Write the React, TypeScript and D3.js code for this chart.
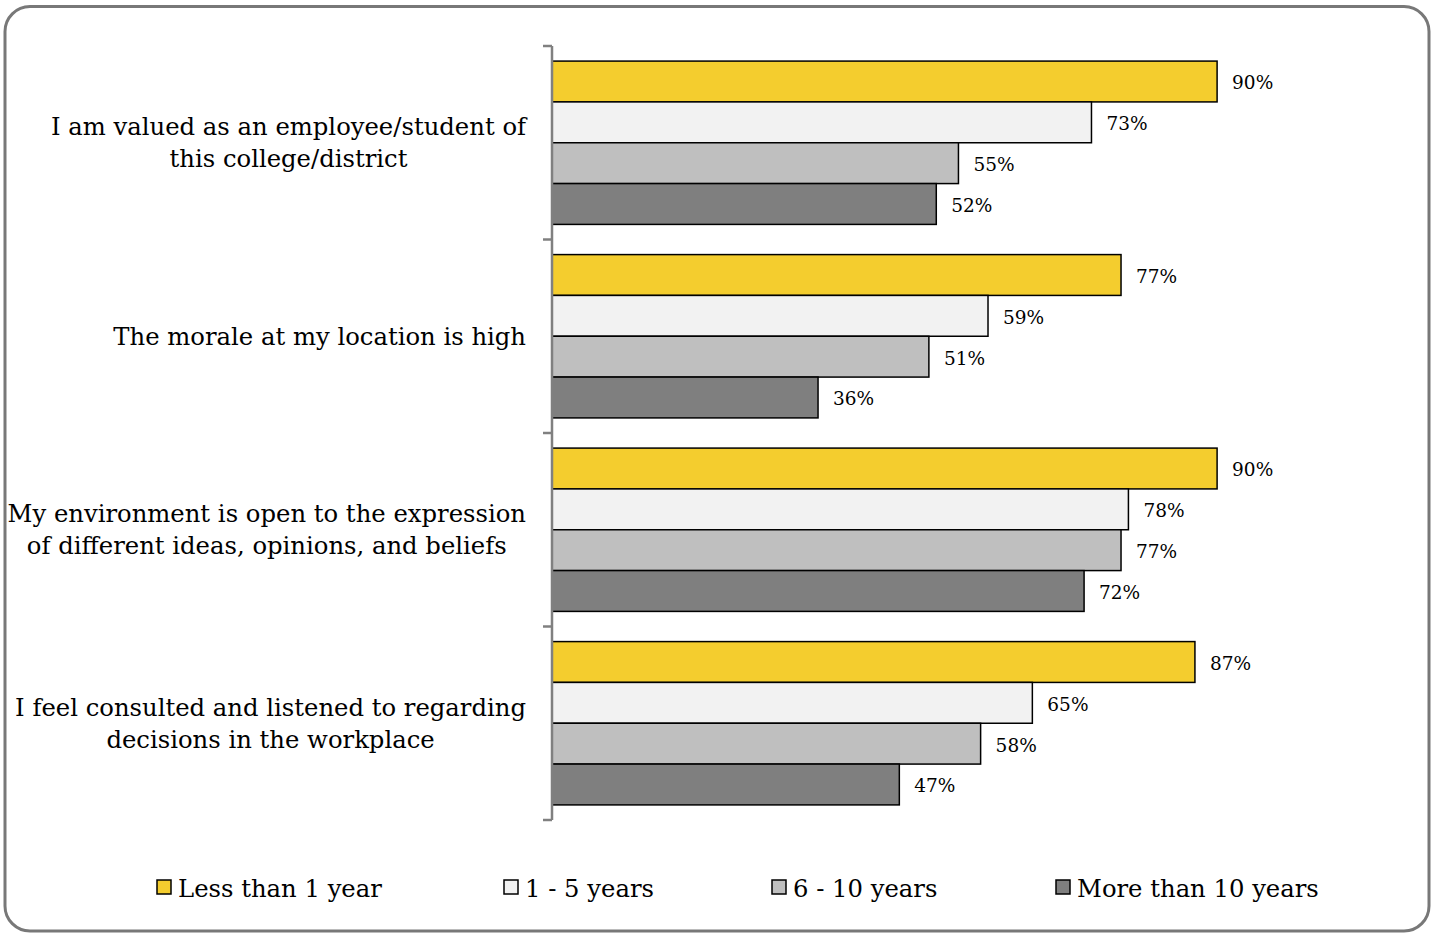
import React, { useEffect, useRef } from "react";
import * as d3 from "d3";

const categories: string[][] = [
  ["I am valued as an employee/student of", "this college/district"],
  ["The morale at my location is high"],
  ["My environment is open to the expression", "of different ideas, opinions, and beliefs"],
  ["I feel consulted and listened to regarding", "decisions in the workplace"],
];
const seriesNames = ["Less than 1 year", "1 - 5 years", "6 - 10 years", "More than 10 years"];
const seriesColors = ["#F4CD2E", "#F2F2F2", "#BFBFBF", "#7F7F7F"];
const lessThan1 = [0.9, 0.77, 0.9, 0.87];
const oneToFive = [0.73, 0.59, 0.78, 0.65];
const sixToTen = [0.55, 0.51, 0.77, 0.58];
const moreThan10 = [0.52, 0.36, 0.72, 0.47];
const seriesValues = [lessThan1, oneToFive, sixToTen, moreThan10];
const legendX = [157, 504, 772, 1056];

const W = 1438;
const H = 934;
const FONT = "'DejaVu Serif', serif";

export default function App() {
  const ref = useRef<SVGSVGElement>(null);

  useEffect(() => {
    const svg = d3.select(ref.current);
    svg.selectAll("*").remove();

    svg
      .append("rect")
      .attr("x", 5)
      .attr("y", 6.5)
      .attr("width", 1424)
      .attr("height", 924.5)
      .attr("rx", 25)
      .attr("fill", "#fff")
      .attr("stroke", "#787878")
      .attr("stroke-width", 3);

    const idx = categories.map((_, i) => String(i));
    const y = d3.scaleBand<string>().domain(idx).range([46, 820]);
    const bw = y.bandwidth();
    const inner = d3
      .scaleBand<number>()
      .domain(d3.range(seriesNames.length))
      .range([bw * 0.078, bw * 0.922]);
    const x = d3.scaleLinear().domain([0, 1]).range([552, 552 + 739]);

    // bars and value labels
    categories.forEach((_, ci) => {
      const g = svg.append("g").attr("transform", `translate(0,${y(String(ci))})`);
      seriesValues.forEach((vals, si) => {
        const v = vals[ci];
        g.append("rect")
          .attr("x", x(0))
          .attr("y", inner(si)!)
          .attr("width", x(v) - x(0))
          .attr("height", inner.bandwidth())
          .attr("fill", seriesColors[si])
          .attr("stroke", "#000")
          .attr("stroke-width", 1.5);
        g.append("text")
          .attr("x", x(v) + 15)
          .attr("y", inner(si)! + inner.bandwidth() / 2 + 1.5)
          .attr("dy", "0.35em")
          .attr("font-family", FONT)
          .attr("font-size", 18.5)
          .attr("fill", "#000")
          .text(d3.format(".0%")(v));
      });
    });

    // category axis
    const axis = svg.append("g").attr("stroke", "#808080").attr("stroke-width", 2.5);
    axis.append("line").attr("x1", 552).attr("x2", 552).attr("y1", 46).attr("y2", 820);
    [...idx.map((c) => y(c)!), 820].forEach((t) => {
      axis.append("line").attr("x1", 543).attr("x2", 552).attr("y1", t).attr("y2", t);
    });

    // category labels: block right-aligned, lines centered within the block
    const lineH = 32;
    categories.forEach((lines, ci) => {
      const cy = y(String(ci))! + bw / 2;
      const t = svg
        .append("text")
        .attr("font-family", FONT)
        .attr("font-size", 24.3)
        .attr("fill", "#000")
        .attr("text-anchor", "middle");
      const spans = lines.map((ln, li) =>
        t
          .append("tspan")
          .attr("y", cy + (li - (lines.length - 1) / 2) * lineH)
          .attr("dy", "0.35em")
          .text(ln)
      );
      const maxW = d3.max(spans.map((s) => (s.node() as SVGTSpanElement).getComputedTextLength())) || 0;
      const cx = 526 - maxW / 2;
      spans.forEach((s) => s.attr("x", cx));
    });

    // legend
    seriesNames.forEach((name, si) => {
      const lx = legendX[si];
      svg
        .append("rect")
        .attr("x", lx)
        .attr("y", 880)
        .attr("width", 14)
        .attr("height", 14)
        .attr("fill", seriesColors[si])
        .attr("stroke", "#000")
        .attr("stroke-width", 1.5);
      svg
        .append("text")
        .attr("x", lx + 21)
        .attr("y", 888)
        .attr("dy", "0.35em")
        .attr("font-family", FONT)
        .attr("font-size", 24.3)
        .attr("fill", "#000")
        .text(name);
    });
  }, []);

  return (
    <svg
      ref={ref}
      width={W}
      height={H}
      style={{ position: "absolute", left: 0, top: 0 }}
    />
  );
}
